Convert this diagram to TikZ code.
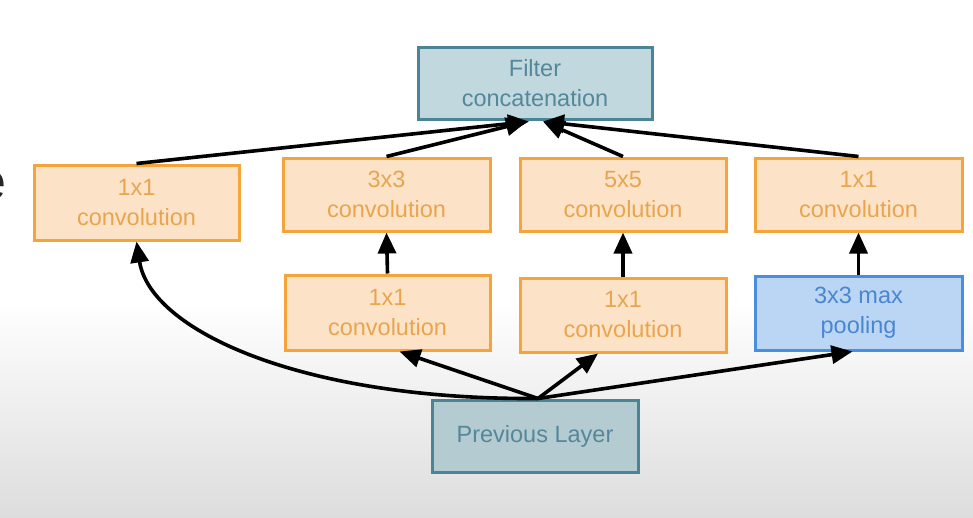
\documentclass[tikz,border=0pt]{standalone}
\usepackage{fontspec}
\setmainfont{Liberation Sans}
\usetikzlibrary{arrows.meta,calc}
\definecolor{orfill}{HTML}{FCE3C8}
\definecolor{ordraw}{HTML}{F4A43A}
\definecolor{ortext}{HTML}{E9A54E}
\definecolor{tlfill}{HTML}{C2D8DF}
\definecolor{tlfilldk}{HTML}{B5CBD2}
\definecolor{tldraw}{HTML}{4B8595}
\definecolor{tltext}{HTML}{55879A}
\definecolor{plfill}{HTML}{BBD6F5}
\definecolor{pldraw}{HTML}{4A8EE0}
\definecolor{pltext}{HTML}{4A86D0}
\definecolor{bggray}{HTML}{DDDDDD}
\tikzset{
  box/.style={draw, line width=3pt, minimum width=205pt, minimum height=72pt, inner sep=0pt,
    align=center, font=\fontsize{23.5}{30}\selectfont},
  convbox/.style={box, fill=orfill, draw=ordraw, text=ortext},
  tealbox/.style={box, fill=tlfill, draw=tldraw, text=tltext},
  poolbox/.style={box, fill=plfill, draw=pldraw, text=pltext},
  conn/.style={line width=3.6pt, draw=black, -{Triangle[length=21pt,width=18pt]}},
}
\begin{document}
\begin{tikzpicture}[x=1pt,y=-1pt]
\useasboundingbox (0,0) rectangle (973,517);
\fill[white] (0,0) rectangle (973,300);
\shade[top color=white, bottom color=bggray] (0,300) rectangle (973,517);
\node[text=black!85, font=\fontsize{52}{52}\selectfont, anchor=center] (frag) at (-8,186) {e};
\node[tealbox, minimum width=234pt] (concat) at (535,83) {Filter\\concatenation};
\node[convbox, minimum height=75pt] (c1) at (136.5,202.5) {1x1\\convolution};
\node[convbox, minimum width=207pt, minimum height=73pt] (c3) at (386.5,194.5) {3x3\\convolution};
\node[convbox, minimum width=206pt, minimum height=73pt] (c5) at (623,194.5) {5x5\\convolution};
\node[convbox, minimum width=207pt, minimum height=73pt] (c1r) at (858.5,194.5) {1x1\\convolution};
\node[convbox, minimum height=75pt] (r1) at (387.5,312.5) {1x1\\convolution};
\node[convbox, minimum width=206pt, minimum height=74pt] (r2) at (623,315) {1x1\\convolution};
\node[poolbox, minimum width=207pt, minimum height=74pt] (pool) at (858.5,313) {3x3 max\\pooling};
\node[tealbox, fill=tlfilldk, minimum width=206pt] (prev) at (535,436) {Previous Layer};
% to concatenation
\draw[conn] (c1.north) -- ([xshift=-6pt,yshift=-1pt]concat.south);
\draw[conn] (c3.north) -- ([xshift=-8pt,yshift=-1pt]concat.south);
\draw[conn] (c5.north) -- ([xshift=8pt,yshift=-1pt]concat.south);
\draw[conn] (c1r.north) -- ([xshift=8pt,yshift=-1pt]concat.south);
% vertical
\draw[conn] (r1.north) -- (c3.south);
\draw[conn] (r2.north) -- (c5.south);
\draw[conn] (pool.north) -- (c1r.south);
% from previous layer
\draw[conn] ([xshift=3pt]prev.north) .. controls (300,400) and (150,330) .. (c1.south);
\draw[conn] ([xshift=3pt]prev.north) -- ([xshift=12pt]r1.south);
\draw[conn] ([xshift=3pt]prev.north) -- ([xshift=-25pt]r2.south);
\draw[conn] ([xshift=3pt]prev.north) -- ([xshift=-6pt]pool.south);
\end{tikzpicture}
\end{document}
